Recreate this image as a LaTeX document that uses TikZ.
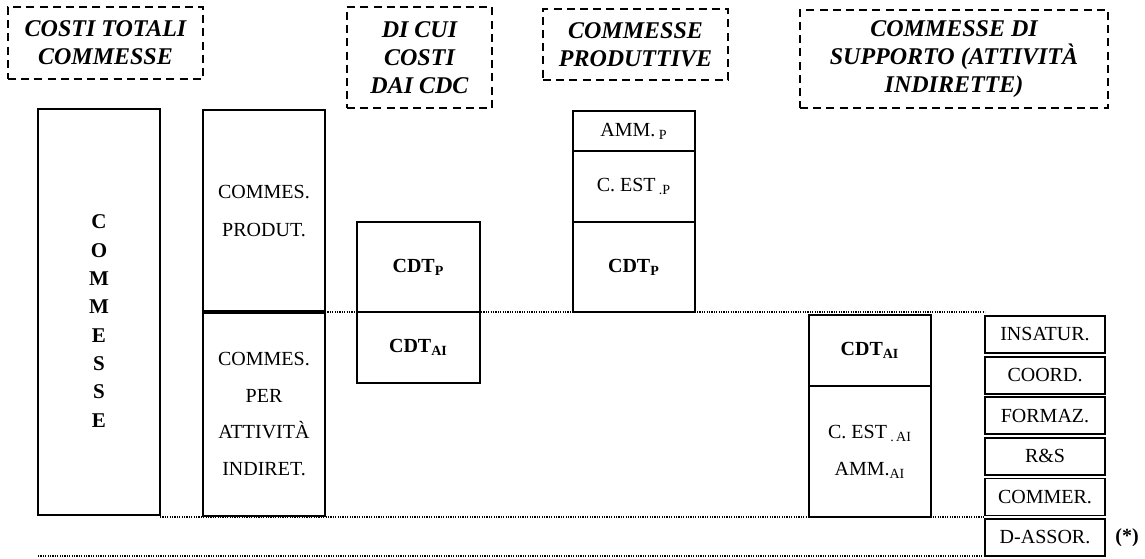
\documentclass[tikz,border=0pt]{standalone}
\usepackage{fontspec}
\setmainfont{Liberation Serif}
\begin{document}
\begin{tikzpicture}[x=0.5pt,y=-0.5pt,
  box/.style={draw, line width=0.9pt, inner sep=0pt, outer sep=0pt, align=center, font=\fontsize{10}{12}\selectfont},
  titlebox/.style={draw, dash pattern=on 4pt off 2.6pt, line width=0.8pt, inner sep=0pt, outer sep=0pt, align=center, font=\fontsize{12}{14}\selectfont\bfseries\itshape},
  guide/.style={line width=0.6pt, dash pattern=on 0.6pt off 0.6pt},
  cdt/.style={font=\fontsize{10}{12}\selectfont\bfseries}]
\useasboundingbox (0,0) rectangle (1145,558);
% titles
\node[titlebox, minimum width=97.5pt, minimum height=36pt] (t1) at (105.5,43) {COSTI TOTALI\\COMMESSE};
\node[titlebox, minimum width=72.5pt, minimum height=50.5pt] (t2) at (419.5,57.5) {DI CUI\\COSTI\\DAI CDC};
\node[titlebox, minimum width=92.5pt, minimum height=35.5pt] (t3) at (635.5,44.5) {COMMESSE\\PRODUTTIVE};
\node[titlebox, minimum width=154pt, minimum height=49pt] (t4) at (954,59) {COMMESSE DI\\SUPPORTO (ATTIVITÀ\\INDIRETTE)};
% column 1
\node[box, minimum width=61pt, minimum height=203pt] (b1) at (99,312) {};
\node[font=\fontsize{10.5}{14.15}\selectfont\bfseries, align=center, inner sep=0pt] (lcomm) at (99,321) {C\\O\\M\\M\\E\\S\\S\\E};
% column 2
\node[box, minimum width=61pt, minimum height=101pt, font=\fontsize{10}{19}\selectfont] (b2t) at (264,211) {COMMES.\\PRODUT.};
\node[box, minimum width=61pt, minimum height=102pt, font=\fontsize{10}{18.25}\selectfont] (b2b) at (264,414) {COMMES.\\PER\\ATTIVITÀ\\INDIRET.};
\draw[line width=1.6pt] (b2t.south west) -- (b2t.south east);
% column 3
\node[box, cdt, minimum width=61.5pt, minimum height=45pt] (b3t) at (418.5,267) {CDT\textsubscript{P}};
\node[box, cdt, minimum width=61.5pt, minimum height=35.5pt] (b3b) at (418.5,347.5) {CDT\textsubscript{AI}};
% column 4
\node[box, minimum width=61pt, minimum height=20pt] (b4a) at (634,131) {AMM.\,\textsubscript{P}};
\node[box, minimum width=61pt, minimum height=35.5pt] (b4b) at (634,186.5) {C. EST\,\textsubscript{.P}};
\node[box, cdt, minimum width=61pt, minimum height=45pt] (b4c) at (634,267) {CDT\textsubscript{P}};
% column 5
\node[box, cdt, minimum width=61pt, minimum height=35.5pt] (b5a) at (870,350.5) {CDT\textsubscript{AI}};
\node[box, minimum width=61pt, minimum height=65.5pt, font=\fontsize{10}{18.5}\selectfont] (b5b) at (870,451.5) {C. EST\,\textsubscript{.\,AI}\\AMM.\textsubscript{AI}};
% column 6
\node[box, minimum width=60pt, minimum height=18.5pt] (c6a) at (1045,334.5) {INSATUR.};
\node[box, minimum width=60pt, minimum height=18.5pt] (c6b) at (1045,375.1) {COORD.};
\node[box, minimum width=60pt, minimum height=18.5pt] (c6c) at (1045,415.7) {FORMAZ.};
\node[box, minimum width=60pt, minimum height=18.5pt] (c6d) at (1045,456.3) {R\&S};
\node[box, minimum width=60pt, minimum height=18.5pt] (c6e) at (1045,496.9) {COMMER.};
\node[box, minimum width=60pt, minimum height=18.5pt] (c6f) at (1045,537.5) {D-ASSOR.};
\node[font=\fontsize{10}{12}\selectfont\bfseries, inner sep=0pt] (ast) at (1127,538) {(*)};
% dotted guide lines
\draw[guide] (b2t.south east) -- (b2t.south east -| c6a.west);
\draw[guide] (b1.south east |- b5b.south) -- (b5b.south -| c6a.west);
\draw[guide] (b1.south west |- c6f.south) -- (c6f.south west);
\end{tikzpicture}
\end{document}
